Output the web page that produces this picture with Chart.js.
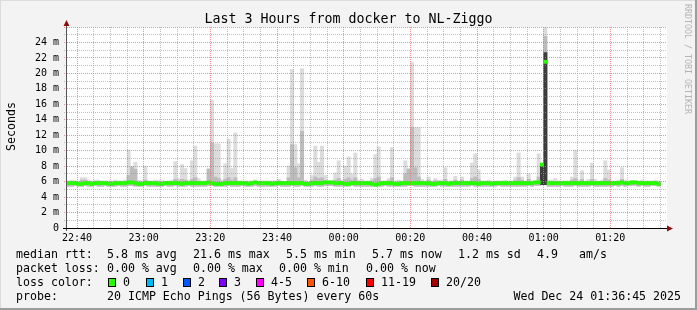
<!DOCTYPE html>
<html>
<head>
<meta charset="utf-8">
<script src="https://cdn.jsdelivr.net/npm/chart.js@4.4.1/dist/chart.umd.min.js"></script>
<style>
html,body{margin:0;padding:0;background:#f3f3f3;}
#wrap{position:relative;width:697px;height:310px;overflow:hidden;background:#f3f3f3;font-family:'DejaVu Sans Mono',monospace;color:#000;}
#c{position:absolute;left:0;top:0;}
.t{position:absolute;white-space:pre;font-size:11.6px;line-height:14px;}
.box{position:absolute;width:8px;height:9px;box-sizing:border-box;border:1px solid #000;}
#title{position:absolute;left:0;width:697px;top:11px;text-align:center;font-size:13.3px;line-height:16px;white-space:pre;}
#ytitle{position:absolute;left:3px;top:87px;height:80px;width:16px;writing-mode:vertical-rl;transform:rotate(180deg);text-align:center;font-size:11.6px;line-height:16px;}
#wm{position:absolute;left:683px;top:4px;writing-mode:vertical-rl;font-size:8.3px;line-height:10px;color:#b4b4b4;white-space:pre;}
#bt{position:absolute;left:0;top:0;width:697px;height:1px;background:#dcdcdc;}
#bl{position:absolute;left:0;top:0;width:1px;height:310px;background:#dcdcdc;}
#bb{position:absolute;left:0;top:308px;width:697px;height:2px;background:#9c9c9c;}
#br{position:absolute;left:695px;top:0;width:2px;height:310px;background:#9c9c9c;}
</style>
</head>
<body>
<div id="wrap">
<canvas id="c" width="697" height="310"></canvas>
<div id="title">Last 3 Hours from docker to NL-Ziggo</div>
<div id="ytitle">Seconds</div>
<div id="wm">RRDTOOL / TOBI OETIKER</div>
<div id="legend"></div>
<div id="bt"></div><div id="bl"></div><div id="bb"></div><div id="br"></div>
</div>
<script>
// ---- data (ms), one value per minute starting 22:37 ----
const startTime = '22:37';
const median = [
5.8,5.8,5.8,5.7,5.7,5.8,5.8,5.7,5.8,5.8,
5.8,5.8,5.7,5.7,5.8,5.8,5.8,5.8,5.9,5.9,
5.8,5.7,5.7,5.8,5.8,5.8,5.8,5.7,5.7,5.8,
5.8,5.8,5.8,5.8,5.7,5.8,5.8,5.8,5.8,5.8,
5.8,5.8,5.9,5.8,5.7,5.7,5.7,5.8,5.8,5.8,
5.8,5.8,5.8,5.8,5.7,5.8,5.9,5.8,5.8,5.8,
5.8,5.7,5.8,5.8,5.8,5.8,5.8,5.8,5.8,5.8,
5.8,5.7,5.7,5.8,5.8,5.8,5.8,5.9,5.9,5.9,
5.8,5.8,5.8,5.7,5.7,5.8,5.8,5.8,5.8,5.8,
5.8,5.7,5.6,5.7,5.8,5.8,5.8,5.8,5.7,5.7,
5.8,5.8,5.8,5.8,5.8,5.8,5.8,5.8,5.8,5.7,
5.7,5.8,5.8,5.8,5.7,5.8,5.8,5.8,5.8,5.8,
5.8,5.8,5.8,5.7,5.8,5.8,5.8,5.7,5.8,5.8,
5.8,5.8,5.8,5.8,5.8,5.8,5.8,5.8,5.8,5.8,
5.9,5.9,8.2,21.5,5.8,5.8,5.8,5.8,5.8,5.8,
5.8,5.8,5.8,5.8,5.8,5.8,5.8,5.8,5.8,5.8,
5.8,5.8,5.8,5.8,5.8,5.8,5.9,5.8,5.8,5.9,
5.9,5.8,5.8,5.8,5.8,5.8,5.8,5.7];
const smokeMin = [
5.4,5.4,5.5,5.4,5.4,5.5,5.4,5.4,5.5,5.4,
5.4,5.5,5.4,5.4,5.4,5.5,5.4,5.4,5.5,5.5,
5.4,5.4,5.4,5.5,5.4,5.4,5.4,5.4,5.4,5.5,
5.4,5.4,5.5,5.4,5.4,5.4,5.5,5.4,5.4,5.4,
5.4,5.4,5.5,5.5,5.4,5.4,5.4,5.4,5.5,5.4,
5.4,5.4,5.5,5.4,5.4,5.4,5.5,5.4,5.4,5.4,
5.4,5.4,5.4,5.5,5.4,5.4,5.4,5.5,5.4,5.4,
5.5,5.4,5.4,5.4,5.5,5.4,5.4,5.5,5.5,5.5,
5.4,5.4,5.4,5.4,5.4,5.5,5.4,5.4,5.4,5.4,
5.4,5.4,5.4,5.4,5.4,5.5,5.4,5.4,5.4,5.4,
5.4,5.4,5.5,5.5,5.4,5.4,5.4,5.4,5.4,5.4,
5.4,5.5,5.4,5.4,5.4,5.4,5.4,5.4,5.4,5.4,
5.4,5.5,5.4,5.4,5.4,5.4,5.4,5.4,5.4,5.5,
5.4,5.4,5.4,5.4,5.4,5.4,5.4,5.4,5.5,5.4,
5.5,5.5,5.6,5.6,5.4,5.4,5.4,5.4,5.5,5.4,
5.4,5.4,5.5,5.4,5.4,5.4,5.4,5.5,5.4,5.4,
5.4,5.4,5.4,5.4,5.5,5.4,5.5,5.4,5.5,5.5,
5.5,5.4,5.5,5.4,5.4,5.5,5.5,5.4];
const smokeMax = [
6.1,6.2,6.1,6.1,6.5,6.5,6.2,6.1,6.2,6.2,
6.1,6.1,6.1,6.1,6.2,6.1,6.1,6.2,10.1,7.9,
8.5,6.2,6.1,8.0,6.1,6.1,6.2,6.2,6.1,6.1,
6.1,6.2,8.6,6.4,8.2,7.7,6.2,8.7,10.6,6.4,
6.1,6.1,7.7,16.5,10.9,10.9,6.2,8.3,11.5,7.7,
12.3,6.1,6.1,6.1,6.1,6.1,6.2,6.1,6.1,6.1,
6.1,6.1,6.1,6.3,6.1,6.0,8.0,20.5,10.8,8.3,
20.6,6.2,6.0,6.8,10.6,8.5,10.6,6.8,6.1,6.1,
7.1,8.7,6.2,8.0,9.2,7.0,9.7,6.2,6.3,6.1,
6.1,6.4,9.5,10.5,6.1,6.1,6.4,10.4,6.1,6.2,
6.1,8.7,7.7,21.4,13.0,13.0,6.3,6.1,6.6,6.1,
6.4,6.2,6.2,7.8,6.1,6.1,6.7,6.1,6.6,6.1,
6.1,8.4,9.6,7.5,6.1,6.1,6.2,6.1,6.1,6.1,
6.1,6.2,6.1,6.1,6.6,9.7,6.6,6.1,7.0,6.1,
6.1,9.6,8.3,26.5,6.2,6.2,6.4,6.1,6.1,6.1,
6.1,6.6,10.0,6.2,7.4,6.1,6.3,8.4,6.3,6.1,
6.2,8.7,7.5,6.1,6.1,6.2,7.8,6.2,6.1,6.1,
6.1,6.1,6.2,6.1,6.1,6.1,6.2,6.1];
const smokeMid = [
6.0,6.0,6.0,6.0,6.2,6.2,6.0,6.0,6.0,6.0,
6.0,6.0,6.0,6.0,6.0,6.0,6.0,6.0,6.8,7.9,
7.6,6.0,6.0,6.2,6.0,6.0,6.0,6.0,6.0,6.0,
6.0,6.0,6.3,6.1,6.3,6.2,6.0,6.3,6.5,6.0,
6.0,6.0,7.6,11.0,6.6,6.4,6.0,6.3,6.5,6.2,
6.5,6.0,6.0,6.0,6.0,6.0,6.0,6.0,6.0,6.0,
6.0,6.0,6.0,6.1,6.0,6.0,6.5,10.8,7.8,6.5,
12.5,6.0,6.0,6.2,6.6,6.4,6.5,6.1,6.0,6.0,
6.2,6.4,6.0,6.3,6.5,6.2,6.5,6.0,6.0,6.0,
6.0,6.1,6.4,6.6,6.0,6.0,6.1,6.5,6.0,6.0,
6.0,7.0,7.6,13.0,7.8,6.6,6.0,6.0,6.2,6.0,
6.1,6.0,6.0,6.3,6.0,6.0,6.2,6.0,6.2,6.0,
6.0,6.4,6.6,6.3,6.0,6.0,6.0,6.0,6.0,6.0,
6.0,6.0,6.0,6.0,6.2,6.5,6.2,6.0,6.3,6.0,
6.0,6.6,8.3,24.8,6.0,6.0,6.0,6.0,6.0,6.0,
6.0,6.2,6.4,6.0,6.3,6.0,6.0,6.3,6.0,6.0,
6.0,6.4,6.2,6.0,6.0,6.0,6.3,6.0,6.0,6.0,
6.0,6.0,6.0,6.0,6.0,6.0,6.0,6.0];
const smokeDark = [
null,null,null,null,null,null,null,null,null,null,
null,null,null,null,null,null,null,null,null,null,
null,null,null,null,null,null,null,null,null,null,
null,null,null,null,null,null,null,null,null,null,
null,null,null,null,null,null,null,null,null,null,
null,null,null,null,null,null,null,null,null,null,
null,null,null,null,null,null,null,null,null,null,
null,null,null,null,null,null,null,null,null,null,
null,null,null,null,null,null,null,null,null,null,
null,null,null,null,null,null,null,null,null,null,
null,null,null,null,null,null,null,null,null,null,
null,null,null,null,null,null,null,null,null,null,
null,null,null,null,null,null,null,null,null,null,
null,null,null,null,null,null,null,null,null,null,
null,null,8.3,22.7,null,null,null,null,null,null,
null,null,null,null,null,null,null,null,null,null,
null,null,null,null,null,null,null,null,null,null,
null,null,null,null,null,null,null,null];
const xTickLabels = ['22:40','23:00','23:20','23:40','00:00','00:20','00:40','01:00','01:20'];
const yTickLabels = ['0','2 m','4 m','6 m','8 m','10 m','12 m','14 m','16 m','18 m','20 m','22 m','24 m'];
const lossColors = ['#26ff00','#00b8ff','#0059ff','#7e00ff','#ff00ff','#ff5500','#ff0000','#a10000'];
const lossLabels = ['0','1','2','3','4-5','6-10','11-19','20/20'];
const statsRtt = ['median rtt:','5.8 ms avg','21.6 ms max','5.5 ms min','5.7 ms now','1.2 ms sd','4.9','am/s'];
const statsLoss = ['packet loss:','0.00 % avg','0.00 % max','0.00 % min','0.00 % now'];
const probeText = ['probe:','20 ICMP Echo Pings (56 Bytes) every 60s','Wed Dec 24 01:36:45 2025'];

// ---- layout helpers ----
const SPAN_MIN = 180;           // minutes shown on the x axis
const Y_MAX = 26;
const MEDIAN_HALF = 0.2;        // half thickness of the median stroke (ms)
function toMin(s){ const p=s.split(':'); return p[0]*60 + (+p[1]); }
const t0 = toMin(startTime);
const labelMinutes = xTickLabels.map(l => (toMin(l) - t0 + 1440) % 1440);
const gridMinutes = [];
for (let m = labelMinutes[0]; m < SPAN_MIN; m += 5) gridMinutes.push(m);
const yGrid = [];
for (let v = 0; v <= Y_MAX; v++) yGrid.push(v);

const N = median.length;
const xOf = i => i + 0.5;
function floatBars(lo, hi){
  const out=[];
  for (let i=0;i<N;i++){ if (hi[i]==null) continue; out.push({x:xOf(i), y:[lo[i], hi[i]]}); }
  return out;
}
const medianBars = median.map((m,i)=>({x:xOf(i), y:[m-MEDIAN_HALF, m+MEDIAN_HALF]}));

const MAJOR = 'rgba(235,110,110,0.75)';
const MINOR = 'rgba(150,150,150,0.6)';
const FONT = "'DejaVu Sans Mono', monospace";

const frame = {
  id:'frame',
  beforeDraw(chart){
    const {ctx, chartArea:a} = chart;
    ctx.save(); ctx.fillStyle='#ffffff';
    ctx.fillRect(a.left, a.top, a.right-a.left, a.bottom-a.top);
    ctx.restore();
  },
  afterDraw(chart){
    const {ctx, chartArea:a} = chart;
    ctx.save();
    ctx.lineWidth=1;
    ctx.strokeStyle='#555555';
    ctx.beginPath(); ctx.moveTo(a.left-0.5, a.bottom+3); ctx.lineTo(a.left-0.5, a.top-2); ctx.stroke();
    ctx.strokeStyle='#000000';
    ctx.beginPath(); ctx.moveTo(a.left-4, a.bottom+0.5); ctx.lineTo(a.right+1, a.bottom+0.5); ctx.stroke();
    ctx.fillStyle='#8b1010';
    ctx.beginPath(); ctx.moveTo(a.left-0.5, a.top-7); ctx.lineTo(a.left-3.5, a.top-1); ctx.lineTo(a.left+2.5, a.top-1); ctx.closePath(); ctx.fill();
    ctx.beginPath(); ctx.moveTo(a.right+6, a.bottom+0.5); ctx.lineTo(a.right, a.bottom-2.5); ctx.lineTo(a.right, a.bottom+3.5); ctx.closePath(); ctx.fill();
    ctx.restore();
  }
};

new Chart(document.getElementById('c'), {
  type:'bar',
  data:{ datasets:[
    {label:'median', data:medianBars, backgroundColor:lossColors[0], grouped:false, order:0},
    {label:'smoke dark', data:floatBars(smokeMin, smokeDark), backgroundColor:'#3c3c3c', grouped:false, order:1},
    {label:'smoke mid', data:floatBars(smokeMin, smokeMid), backgroundColor:'#bcbcbc', grouped:false, order:2},
    {label:'smoke max', data:floatBars(smokeMin, smokeMax), backgroundColor:'#dcdcdc', grouped:false, order:3}
  ]},
  options:{
    responsive:false, animation:false, devicePixelRatio:1,
    layout:{padding:{left:0, right:30, top:27, bottom:0}},
    datasets:{bar:{categoryPercentage:1, barPercentage:1, borderWidth:0}},
    plugins:{legend:{display:false}, tooltip:{enabled:false}, title:{display:false}},
    scales:{
      x:{type:'linear', min:0, max:SPAN_MIN, offset:false,
        afterBuildTicks:s=>{ s.ticks = gridMinutes.map(v=>({value:v})); },
        afterFit:s=>{ s.height = 82; },
        ticks:{autoSkip:false, maxRotation:0, minRotation:0, padding:4, color:'#000',
          font:{family:FONT, size:10},
          callback:v=>{ const k = labelMinutes.indexOf(v); return k>=0 ? xTickLabels[k] : ''; }},
        grid:{z:1, offset:false, drawTicks:false, lineWidth:1,
          color:c=> (c.tick && labelMinutes.includes(c.tick.value)) ? MAJOR : MINOR},
        border:{display:false, dash:[1,1]}
      },
      y:{min:0, max:Y_MAX,
        afterBuildTicks:s=>{ s.ticks = yGrid.map(v=>({value:v})); },
        afterFit:s=>{ s.width = 67; },
        ticks:{autoSkip:false, padding:5, color:'#000', font:{family:FONT, size:10},
          callback:v=> (v%2===0 && yTickLabels[v/2]!==undefined) ? yTickLabels[v/2] : ''},
        grid:{z:1, drawTicks:true, tickLength:3, lineWidth:1,
          color:c=> (c.tick && c.tick.value%2===0) ? MAJOR : MINOR,
          tickColor:c=> (c.tick && c.tick.value%2===0) ? MAJOR : MINOR,
          tickBorderDash:[1,1]},
        border:{display:false, dash:[1,1]}
      }
    }
  },
  plugins:[frame]
});

// ---- legend (text) ----
const L = document.getElementById('legend');
function put(text, x, y, right){
  const d=document.createElement('div'); d.className='t'; d.textContent=text;
  if (right) { d.style.right=(697-x)+'px'; } else { d.style.left=x+'px'; }
  d.style.top=(y-7)+'px'; L.appendChild(d);
}
const rttX = [16,107,193,286,372,458,537,579];
statsRtt.forEach((s,i)=>put(s, rttX[i], 254));
const lossX = [16,107,193,279,366];
statsLoss.forEach((s,i)=>put(s, lossX[i], 268));
put('loss color:', 16, 282);
const boxX = [108,146,183,219,256,307,366,431];
lossLabels.forEach((s,i)=>{
  const b=document.createElement('div'); b.className='box';
  b.style.left=boxX[i]+'px'; b.style.top='278px'; b.style.background=lossColors[i];
  L.appendChild(b);
  put(s, boxX[i]+15, 282);
});
put(probeText[0], 16, 296);
put(probeText[1], 107, 296);
put(probeText[2], 681, 296, true);
</script>
</body>
</html>
